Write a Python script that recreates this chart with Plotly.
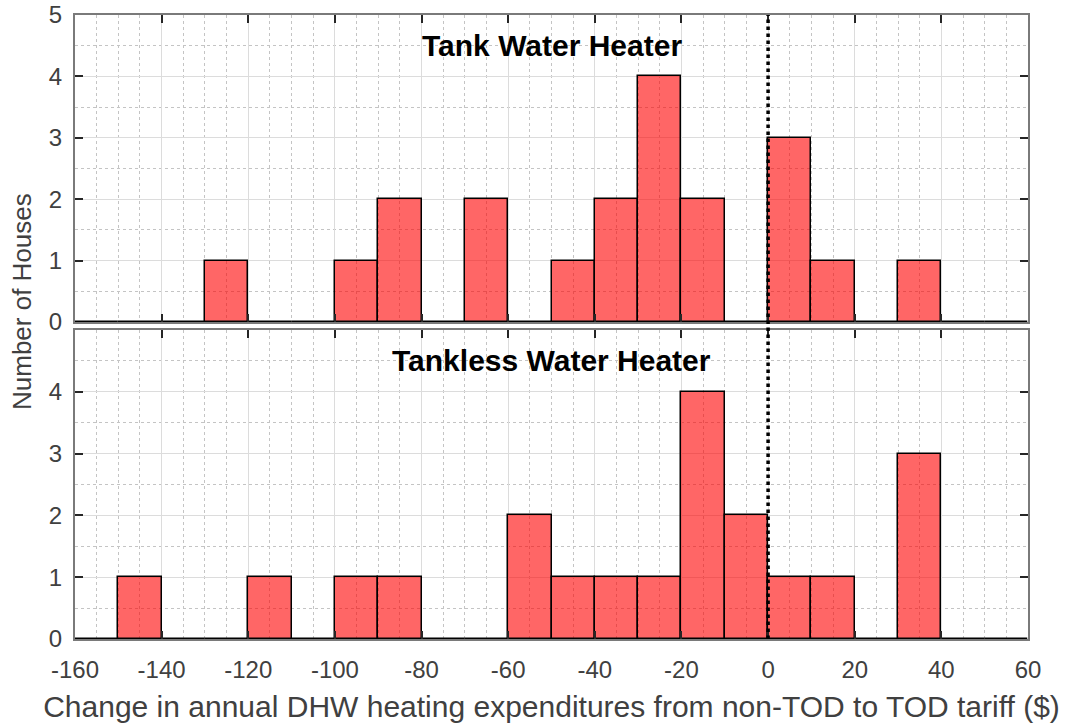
import plotly.graph_objects as go

# Histogram bins: left edge of each 10-dollar bin
bin_left = [-160, -150, -140, -130, -120, -110, -100, -90, -80, -70, -60,
            -50, -40, -30, -20, -10, 0, 10, 20, 30, 40, 50]
bin_width = 10

# Number of houses in each bin
tank_counts = [0, 0, 0, 1, 0, 0, 1, 2, 0, 2, 0,
               1, 2, 4, 2, 0, 3, 1, 0, 1, 0, 0]
tankless_counts = [0, 1, 0, 0, 1, 0, 1, 1, 0, 0, 2,
                   1, 1, 1, 4, 2, 1, 1, 0, 3, 0, 0]

x_ticks = [-160, -140, -120, -100, -80, -60, -40, -20, 0, 20, 40, 60]
x_tick_labels = [str(v) for v in x_ticks]
panel_titles = ["Tank Water Heater", "Tankless Water Heater"]
x_label = "Change in annual DHW heating expenditures from non-TOD to TOD tariff ($)"
y_label = "Number of Houses"

FONT = "Liberation Sans, Arial, sans-serif"
BAR_FILL = "rgba(255,0,0,0.6)"
FRAME = "#7a7a7a"
TICKC = "#262626"
TEXTC = "#404040"

W, H = 1067, 726
ML, MR, MT, MB = 75, 39, 15, 87

fig = go.Figure()
for counts, xa, ya in [(tank_counts, "x", "y"), (tankless_counts, "x2", "y2")]:
    fig.add_trace(go.Bar(
        x=bin_left, y=counts, width=bin_width, offset=0,
        xaxis=xa, yaxis=ya,
        marker=dict(color=BAR_FILL, line=dict(color="black", width=1.5)),
        showlegend=False,
    ))

common_x = dict(
    range=[-160, 60], tickvals=x_ticks, ticktext=x_tick_labels,
    ticks="inside", ticklen=8, tickwidth=1.5,
    tickcolor=TICKC, showline=True, linecolor=FRAME, linewidth=2, mirror="ticks",
    showgrid=True, gridcolor="#dcdcdc", gridwidth=1, zeroline=False,
    minor=dict(dtick=5, showgrid=True, gridcolor="#c4c4c4", griddash="dot",
               gridwidth=1, ticks=""),
    tickfont=dict(family=FONT, size=24, color=TEXTC),
    automargin=False,
)
common_y = dict(
    range=[0, 5], ticks="inside", ticklen=8, tickwidth=1.5, tickcolor=TICKC,
    showline=True, linecolor=FRAME, linewidth=2, mirror="ticks",
    showgrid=True, gridcolor="#dcdcdc", gridwidth=1, zeroline=False,
    minor=dict(dtick=0.5, showgrid=True, gridcolor="#c4c4c4", griddash="dot",
               gridwidth=1, ticks=""),
    tickfont=dict(family=FONT, size=24, color=TEXTC),
    ticklabelstandoff=6,
    automargin=False,
)

fig.update_layout(
    width=W, height=H,
    margin=dict(l=ML, r=MR, t=MT, b=MB, autoexpand=False),
    paper_bgcolor="white", plot_bgcolor="white",
    bargap=0,
    xaxis=dict(common_x, anchor="y", showticklabels=False),
    yaxis=dict(common_y, domain=[0.508, 1.0], anchor="x", tickvals=[0, 1, 2, 3, 4, 5]),
    xaxis2=dict(common_x, anchor="y2", matches="x", ticklabelstandoff=8,
                title=dict(text=x_label, standoff=14,
                           font=dict(family=FONT, size=30, color=TEXTC))),
    yaxis2=dict(common_y, domain=[0.0, 0.4952], anchor="x2", tickvals=[0, 1, 2, 3, 4]),
)

# Panel titles
for title, (xr, yr), ty in zip(panel_titles, [("x", "y"), ("x2", "y2")], [4.5, 4.5]):
    fig.add_annotation(
        x=-50, y=ty, xref=xr, yref=yr, text=f"<b>{title}</b>", showarrow=False,
        font=dict(family=FONT, size=30, color="black"),
        xanchor="center", yanchor="middle",
    )

# Shared y-axis label, placed in paper coordinates
fig.add_annotation(
    x=(22 - ML) / (W - ML - MR), y=1 - (302 - MT) / (H - MT - MB),
    xref="paper", yref="paper", text=y_label, showarrow=False,
    textangle=-90, font=dict(family=FONT, size=26, color=TEXTC),
    xanchor="center", yanchor="middle",
)

# Break-even line at zero change, spanning both panels
fig.add_shape(type="line", xref="x", yref="paper", x0=0, x1=0, y0=0, y1=1,
              line=dict(color="black", width=3.5, dash="dot"), layer="above")

fig.write_html("out.html")
